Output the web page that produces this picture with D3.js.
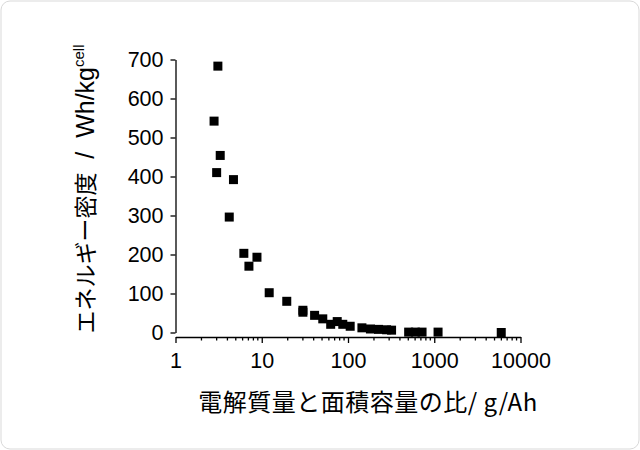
<html>
  <head>
    <meta charset="utf-8">
    <title>Energy density scatter</title>
    <style>
      body { margin: 0; background: #fff; }
      .tick text { font-family: "Liberation Sans", Arial, sans-serif; font-size: 21.5px; fill: #000; }
      .axis path, .axis line { stroke: #000; stroke-width: 1.3; }
    </style>
  </head>
  <body>
    <script type="text/javascript" src="https://cdn.jsdelivr.net/npm/d3@7"></script>
    <script type="text/javascript">
    // ratio of electrolyte mass to areal capacity (g/Ah)
    var ratio = [2.8, 3.1, 3.3, 3.0, 4.7, 4.2, 6.2, 7.1, 8.8, 12.2, 19.5, 30, 30, 41, 51,
                 63, 75, 87, 106, 145, 182, 226, 280, 320, 505, 604, 722, 1107, 5980];
    // energy density (Wh/kg cell)
    var energy = [542, 683, 454, 410, 392, 296, 203, 170, 193, 102, 80, 57, 52, 44, 35,
                  21, 28, 21, 16, 12, 9, 8, 7, 6, 1, 1, 1, 1, 0];
    var yTicks = [0, 100, 200, 300, 400, 500, 600, 700];
    var xTicks = [1, 10, 100, 1000, 10000];

    var width = 640, height = 450;

    var svg = d3.select('body')
      .append('svg')
        .attr('width', width)
        .attr('height', height);

    // rounded frame
    svg.append('rect')
      .attr('x', 1).attr('y', 1)
      .attr('width', width - 2).attr('height', height - 2)
      .attr('rx', 9)
      .attr('fill', '#fff')
      .attr('stroke', '#d9d9d9')
      .attr('stroke-width', 1);

    var x = d3.scaleLog()
      .domain([1, 10000])
      .range([175.5, 520.5]);

    var y = d3.scaleLinear()
      .domain([0, 700])
      .range([332.5, 59.5]);

    var xAxis = d3.axisBottom(x)
      .tickValues(xTicks)
      .tickFormat(d3.format('d'))
      .tickSize(6)
      .tickSizeOuter(0)
      .tickPadding(10);

    var yAxis = d3.axisLeft(y)
      .tickValues(yTicks)
      .tickSize(5)
      .tickSizeOuter(0)
      .tickPadding(7);

    var gx = svg.append('g')
      .attr('class', 'x axis')
      .attr('transform', 'translate(0,337)')
      .call(xAxis);

    // minor ticks on the log axis
    var minor = [];
    for (var dec = 1; dec < 10000; dec *= 10) {
      for (var k = 2; k <= 9; k++) minor.push(dec * k);
    }
    gx.selectAll('line.minor')
      .data(minor)
      .enter().append('line')
        .attr('class', 'minor')
        .attr('x1', function(d) { return x(d); })
        .attr('x2', function(d) { return x(d); })
        .attr('y1', 0)
        .attr('y2', 3.5);

    svg.append('g')
      .attr('class', 'y axis')
      .attr('transform', 'translate(175.5,0)')
      .call(yAxis);

    // points
    var s = 9;
    svg.selectAll('rect.pt')
      .data(ratio)
      .enter().append('rect')
        .attr('class', 'pt')
        .attr('x', function(d) { return x(d) - s / 2; })
        .attr('y', function(d, i) { return y(energy[i]) - s / 2; })
        .attr('width', s)
        .attr('height', s)
        .attr('fill', '#000');

    // axis titles
    svg.append('text')
      .attr('x', 368)
      .attr('y', 411)
      .attr('text-anchor', 'middle')
      .style('font-family', '"Noto Sans CJK JP", sans-serif')
      .style('font-size', '24px')
      .style('letter-spacing', '0.5px')
      .text('電解質量と面積容量の比/ g/Ah');

    var yt = svg.append('text')
      .attr('transform', 'translate(94,189) rotate(-90)')
      .attr('text-anchor', 'middle')
      .style('font-family', '"Noto Sans CJK JP", sans-serif')
      .style('font-size', '23px');
    yt.append('tspan').text('エネルギー密度');
    yt.append('tspan')
      .style('font-family', '"Liberation Sans", Arial, sans-serif')
      .style('font-size', '25px')
      .attr('xml:space', 'preserve')
      .text('  /  Wh/kg');
    yt.append('tspan')
      .attr('dy', -10)
      .style('font-family', '"Liberation Sans", Arial, sans-serif')
      .style('font-size', '15px')
      .text('cell');
    </script>
  </body>
</html>
